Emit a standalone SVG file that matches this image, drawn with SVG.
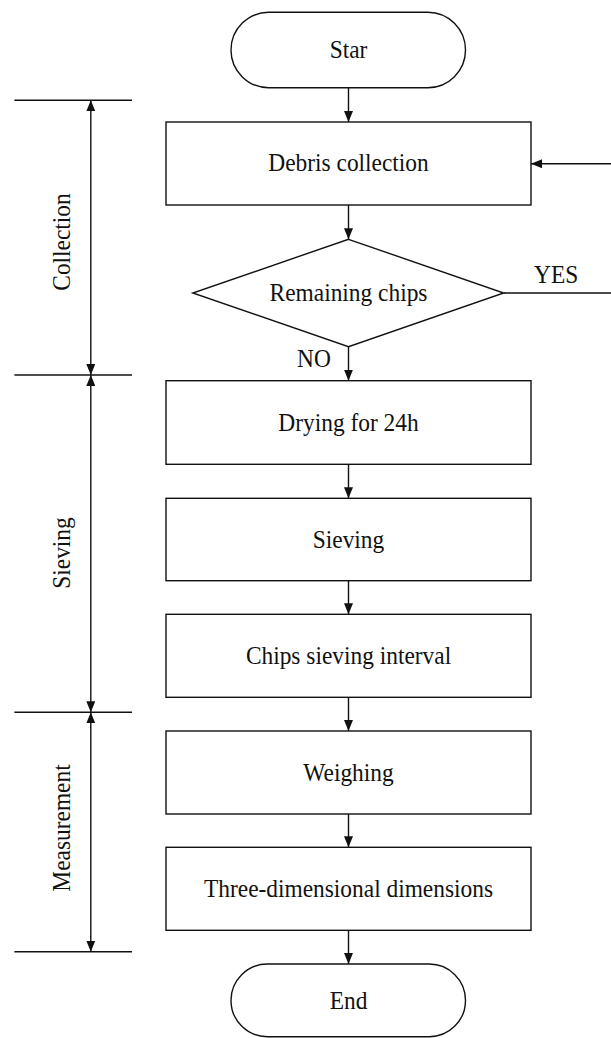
<svg xmlns="http://www.w3.org/2000/svg" width="611" height="1038" viewBox="0 0 611 1038">
<style>
.shape{fill:#fff;stroke:#111;stroke-width:1.4}
.ln{fill:none;stroke:#111;stroke-width:1.4}
.t{font-family:"Liberation Serif","Times New Roman",serif;font-size:26px;fill:#111;text-anchor:middle}
.tl{font-family:"Liberation Serif","Times New Roman",serif;font-size:26px;fill:#111}
</style>
<defs>
<marker id="ah" viewBox="0 0 11 9" refX="11" refY="4.5" markerWidth="11" markerHeight="9" orient="auto-start-reverse" markerUnits="userSpaceOnUse">
<path d="M0,0 L11,4.5 L0,9 z" fill="#111"/>
</marker>
</defs>
<rect width="611" height="1038" fill="#fff"/>
<g id="connectors">
<line class="ln" x1="348.5" y1="87.7" x2="348.5" y2="122" marker-end="url(#ah)"/>
<line class="ln" x1="348.5" y1="205" x2="348.5" y2="239.3" marker-end="url(#ah)"/>
<line class="ln" x1="348.5" y1="346.7" x2="348.5" y2="380.7" marker-end="url(#ah)"/>
<line class="ln" x1="348.5" y1="464.3" x2="348.5" y2="498.3" marker-end="url(#ah)"/>
<line class="ln" x1="348.5" y1="580.7" x2="348.5" y2="614.3" marker-end="url(#ah)"/>
<line class="ln" x1="348.5" y1="697.3" x2="348.5" y2="731" marker-end="url(#ah)"/>
<line class="ln" x1="348.5" y1="814" x2="348.5" y2="847.3" marker-end="url(#ah)"/>
<line class="ln" x1="348.5" y1="930.3" x2="348.5" y2="964" marker-end="url(#ah)"/>
<polyline class="ln" points="503.7,293 614,293 614,163.7 531,163.7" marker-end="url(#ah)"/>
<text class="tl" transform="translate(534,282.7) scale(0.9,1)">YES</text>
<text class="tl" transform="translate(297,367.3) scale(0.9,1)">NO</text>
</g>
<g id="phase-brackets">
<line class="ln" x1="14.4" y1="100.3" x2="132" y2="100.3"/>
<line class="ln" x1="14.4" y1="375" x2="132" y2="375"/>
<line class="ln" x1="14.4" y1="712.3" x2="132" y2="712.3"/>
<line class="ln" x1="14.4" y1="951.7" x2="132" y2="951.7"/>
<line class="ln" x1="90.8" y1="100.3" x2="90.8" y2="375" marker-start="url(#ah)" marker-end="url(#ah)"/>
<line class="ln" x1="90.8" y1="375" x2="90.8" y2="712.3" marker-start="url(#ah)" marker-end="url(#ah)"/>
<line class="ln" x1="90.8" y1="712.3" x2="90.8" y2="951.7" marker-start="url(#ah)" marker-end="url(#ah)"/>
<text class="t" transform="translate(70,242) rotate(-90) scale(0.9,1)">Collection</text>
<text class="t" transform="translate(70,553) rotate(-90) scale(0.9,1)">Sieving</text>
<text class="t" transform="translate(70,828) rotate(-90) scale(0.9,1)">Measurement</text>
</g>
<g id="start">
<rect class="shape" x="231" y="12.3" width="234.5" height="75.4" rx="37.7"/>
<text class="t" transform="translate(348.5,58) scale(0.9,1)">Star</text>
</g>
<g id="debris">
<rect class="shape" x="166" y="122" width="365" height="83"/>
<text class="t" transform="translate(348.5,171) scale(0.9,1)">Debris collection</text>
</g>
<g id="remaining">
<polygon class="shape" points="348.5,239.3 503.7,293 348.5,346.7 192.8,293"/>
<text class="t" transform="translate(348.5,300.7) scale(0.9,1)">Remaining chips</text>
</g>
<g id="drying">
<rect class="shape" x="166" y="380.7" width="365" height="83.6"/>
<text class="t" transform="translate(348.5,431) scale(0.9,1)">Drying for 24h</text>
</g>
<g id="sieving">
<rect class="shape" x="166" y="498.3" width="365" height="82.4"/>
<text class="t" transform="translate(348.5,548) scale(0.9,1)">Sieving</text>
</g>
<g id="interval">
<rect class="shape" x="166" y="614.3" width="365" height="83"/>
<text class="t" transform="translate(348.5,664) scale(0.9,1)">Chips sieving interval</text>
</g>
<g id="weighing">
<rect class="shape" x="166" y="731" width="365" height="83"/>
<text class="t" transform="translate(348.5,780.5) scale(0.9,1)">Weighing</text>
</g>
<g id="dimensions">
<rect class="shape" x="166" y="847.3" width="365" height="83"/>
<text class="t" transform="translate(348.5,896.5) scale(0.9,1)">Three-dimensional dimensions</text>
</g>
<g id="end">
<rect class="shape" x="231" y="964" width="234.5" height="72.7" rx="36.3"/>
<text class="t" transform="translate(348.5,1009) scale(0.9,1)">End</text>
</g>
</svg>
